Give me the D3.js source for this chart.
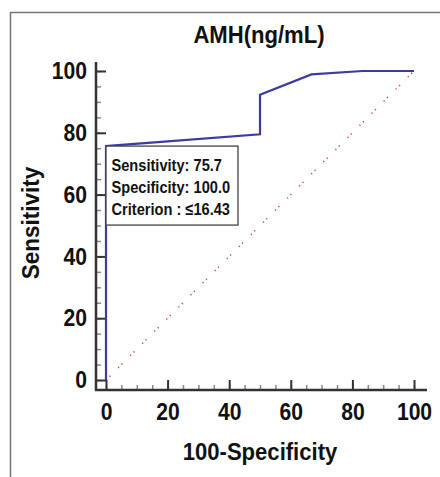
<!DOCTYPE html>
<html>
<head>
<meta charset="utf-8">
<title>AMH ROC</title>
<script src="https://d3js.org/d3.v7.min.js"></script>
<style>
  body { margin: 0; background: #fff; }
  text { font-family: "Liberation Sans", Arial, sans-serif; font-weight: bold; fill: #111; }
</style>
</head>
<body>
<div id="chart"></div>
<script>
    // ROC curve points (100-Specificity, Sensitivity)
    var rocX = [0, 0, 50, 50, 66.7, 83.3, 100];
    var rocY = [0, 75.7, 79.5, 92.3, 98.9, 100, 100];
    var majorTicks = [0, 20, 40, 60, 80, 100];
    var minorTicks = d3.range(0, 101, 5);
    var boxLines = ["Sensitivity: 75.7", "Specificity: 100.0", "Criterion : \u226416.43"];
    var boxPoint = {x: 0, y: 75.7};

    var width = 440, height = 477;

    var svg = d3.select("#chart")
        .append("svg")
        .attr("width", width)
        .attr("height", height);

    // narrow bold text: place at (px,py), squeeze horizontally
    function label(px, py, str, size, sx, anchor, rot) {
        return svg.append("text")
            .attr("transform", "translate(" + px + "," + py + ")" + (rot ? " rotate(" + rot + ")" : "") + " scale(" + sx + ",1)")
            .attr("text-anchor", anchor || "start")
            .attr("font-size", size)
            .text(str);
    }

    // outer frame (only left and top edges visible)
    svg.append("path")
        .attr("d", "M10.5," + height + "V12.5H" + width)
        .attr("fill", "none")
        .attr("stroke", "#777")
        .attr("stroke-width", 1.5);

    var x = d3.scaleLinear().domain([0, 100]).range([106, 414]);
    var y = d3.scaleLinear().domain([0, 100]).range([380, 71]);

    var axisX0 = 96, axisY0 = 390;
    var tickSx = 0.88;

    // minor ticks
    svg.append("g")
        .attr("transform", "translate(" + axisX0 + ",0)")
        .call(d3.axisLeft(y).tickValues(minorTicks).tickSize(-5).tickFormat(""))
        .call(g => g.select(".domain").remove())
        .call(g => g.selectAll("line").attr("stroke", "#888").attr("stroke-width", 1.5));
    svg.append("g")
        .attr("transform", "translate(0," + axisY0 + ")")
        .call(d3.axisBottom(x).tickValues(minorTicks).tickSize(-5).tickFormat(""))
        .call(g => g.select(".domain").remove())
        .call(g => g.selectAll("line").attr("stroke", "#888").attr("stroke-width", 1.5));

    // major ticks + labels
    var yAxis = svg.append("g")
        .attr("transform", "translate(" + axisX0 + ",0)")
        .call(d3.axisLeft(y).tickValues(majorTicks).tickSize(-10).tickPadding(9))
        .call(g => g.select(".domain").remove());
    yAxis.selectAll("line").attr("stroke", "#333").attr("stroke-width", 2);
    yAxis.selectAll("text")
        .attr("font-size", 24).attr("font-family", null).attr("fill", "#111")
        .attr("x", -9 / tickSx)
        .attr("transform", "scale(" + tickSx + ",1)");

    var xAxis = svg.append("g")
        .attr("transform", "translate(0," + axisY0 + ")")
        .call(d3.axisBottom(x).tickValues(majorTicks).tickSize(-10).tickPadding(13))
        .call(g => g.select(".domain").remove());
    xAxis.selectAll("line").attr("stroke", "#333").attr("stroke-width", 2);
    xAxis.selectAll("text")
        .attr("font-size", 24).attr("font-family", null).attr("fill", "#111")
        .attr("transform", "scale(" + tickSx + ",1)");

    // axis lines
    svg.append("path")
        .attr("d", "M" + axisX0 + "," + (y(100) - 9) + "V" + axisY0 + "H" + (x(100) + 13))
        .attr("fill", "none")
        .attr("stroke", "#333")
        .attr("stroke-width", 2.5);

    // diagonal reference line
    svg.append("line")
        .attr("x1", x(0)).attr("y1", y(0))
        .attr("x2", x(100)).attr("y2", y(100))
        .attr("stroke", "#e04848")
        .attr("stroke-width", 1.5)
        .attr("stroke-dasharray", "1.3,3.5,1.3,11");

    // ROC curve
    var line = d3.line()
        .x((d, i) => x(rocX[i]))
        .y((d, i) => y(rocY[i]));
    svg.append("path")
        .datum(rocX)
        .attr("d", line)
        .attr("fill", "none")
        .attr("stroke", "#3b3ba3")
        .attr("stroke-width", 2.2);

    // criterion box
    var bx = x(boxPoint.x), by = y(boxPoint.y);
    svg.append("rect")
        .attr("x", bx).attr("y", by)
        .attr("width", 132).attr("height", 79)
        .attr("fill", "#fff")
        .attr("stroke", "#444")
        .attr("stroke-width", 1.3);
    boxLines.forEach(function(s, i) {
        label(bx + 5.5, by + 24.5 + i * 22.3, s, 17, 0.86);
    });

    // titles
    label(259, 42.5, "AMH(ng/mL)", 23, 0.96, "middle");
    label(260, 460, "100-Specificity", 23, 0.96, "middle");
    label(38.5, 223, "Sensitivity", 23, 0.98, "middle", -90);
</script>
</body>
</html>
